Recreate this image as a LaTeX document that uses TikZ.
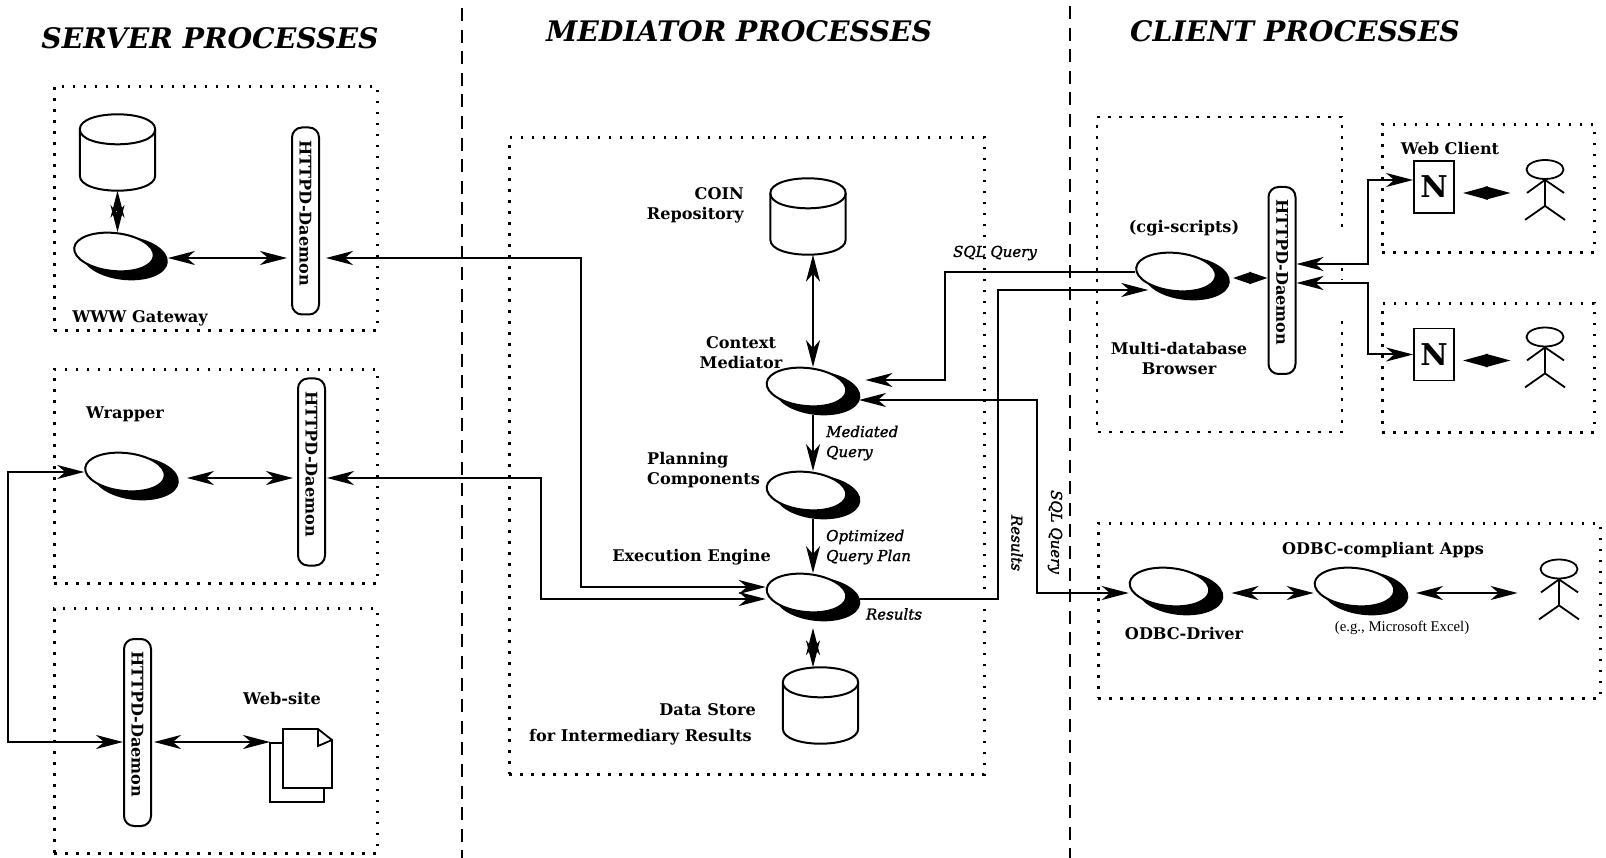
\documentclass[tikz,border=0pt]{standalone}
\usepackage{fontspec}
\usepackage{graphicx}
\setmainfont{DejaVu Serif}
\newfontfamily\smallserif{Liberation Serif}
\newfontfamily\semital{DejaVu Serif}[ItalicFeatures={FakeBold=1.4}]
\usetikzlibrary{arrows.meta,shapes.geometric,calc}
\tikzset{
  x=1pt,y=-1pt,
  wire/.style={line width=2pt,line join=miter},
  arr/.style={wire,-{Stealth[length=27pt,width=14pt,inset=8pt]}},
  bi/.style={wire,{Stealth[length=27pt,width=14pt,inset=8pt]}-{Stealth[length=27pt,width=14pt,inset=8pt]}},
  bim/.style={wire,{Stealth[length=25pt,width=13pt,inset=0pt]}-{Stealth[length=25pt,width=13pt,inset=0pt]}},
  bis/.style={wire,{Stealth[length=18pt,width=12pt,inset=1pt]}-{Stealth[length=18pt,width=12pt,inset=1pt]}},
  sep/.style={line width=2.2pt,dash pattern=on 13pt off 8.6pt},
  dotbox/.style={draw,line width=2.8pt,dash pattern=on 2.8pt off 8.2pt,inner sep=0pt,anchor=north west},
  dotline/.style={line width=2.8pt,dash pattern=on 2.8pt off 8.2pt},
  procw/.style={ellipse,draw,line width=2pt,fill=white,inner sep=0pt,minimum width=80pt,minimum height=38pt,rotate=-6},
  procs/.style={ellipse,fill=black,inner sep=0pt,minimum width=86pt,minimum height=44pt,rotate=-6},
  cylbox/.style={inner sep=0pt,minimum width=75pt,minimum height=76pt},
  cylline/.style={line width=2pt,fill=white},
  httpd/.style={draw,line width=2pt,rounded corners=10pt,fill=white,inner sep=0pt,minimum width=27pt,minimum height=187pt,font=\fontsize{16.1}{18}\selectfont\bfseries},
  lab/.style={inner sep=0pt,font=\fontsize{16.1}{20}\selectfont\bfseries},
  ital/.style={inner sep=0pt,font=\fontsize{15}{20}\selectfont\semital\itshape},
  head/.style={inner sep=0pt,font=\fontsize{28.3}{32}\selectfont\bfseries\itshape},
  nbox/.style={draw,line width=1.8pt,fill=white,inner sep=0pt,minimum width=40pt,minimum height=52pt,font=\fontsize{30}{32}\selectfont\bfseries},
  headn/.style={ellipse,draw,line width=1.8pt,inner sep=0pt,minimum width=37pt,minimum height=19pt},
  stick/.style={line width=1.8pt},
  page/.style={draw,line width=1.8pt,fill=white,inner sep=0pt,anchor=north west}
}
\newcommand{\procnode}[3]{%
  \node[procs] (#1s) at (#2+11,#3+6) {};
  \node[procw] (#1) at (#2,#3) {};}
\newcommand{\personnode}[3]{%
  \node[headn] (#1) at (#2,#3) {};
  \draw[stick] (#1.south) -- ++(0,26) -- ++(-20,14) ++(20,-14) -- ++(20,14);
  \draw[stick] (#1.south) -- ++(-18,13);
  \draw[stick] (#1.south) -- ++(19,13);}
\newcommand{\cylnode}[3]{%
  \node[cylbox] (#1) at (#2,#3) {};
  \draw[cylline] ($(#1.north west)+(0,15)$) -- ($(#1.south west)+(0,-15)$)
    .. controls +(0,20) and +(-0,20) .. ($(#1.south east)+(0,-15)$)
    -- ($(#1.north east)+(0,15)$)
    .. controls +(0,-20) and +(0,-20) .. ($(#1.north west)+(0,15)$) -- cycle;
  \draw[line width=2pt] ($(#1.north west)+(0,15)$)
    .. controls +(0,20) and +(0,20) .. ($(#1.north east)+(0,15)$);}
\newcommand{\daemon}{\vbox{\hbox{\rotatebox{-90}{HTTPD-Daemon}}\kern16pt}}
\begin{document}
\begin{tikzpicture}
\useasboundingbox (0,0) rectangle (1606,858);
% separators
\coordinate (sa1) at (462,8); \coordinate (sa2) at (462,858);
\coordinate (sb1) at (1070,6); \coordinate (sb2) at (1070,858);
\draw[sep] (sa1) -- (sa2);
\draw[sep] (sb1) -- (sb2);
% titles
\node[head] (tserver) at (210,38) {SERVER PROCESSES};
\node[head] (tmed) at (739,31) {MEDIATOR PROCESSES};
\node[head] (tclient) at (1295,31) {CLIENT PROCESSES};
% dotted boxes
\node[dotbox,minimum width=323pt,minimum height=244pt] (bs1) at (53,85) {};
\node[dotbox,minimum width=323pt,minimum height=214pt] (bs2) at (53,368) {};
\node[dotbox,minimum width=323pt,minimum height=245pt] (bs3) at (53,607) {};
\node[dotbox,minimum width=475pt,minimum height=637pt] (bm) at (508,136) {};
\node[dotbox,minimum width=212pt,minimum height=128pt] (bw1) at (1381,123) {};
\node[dotbox,minimum width=212pt,minimum height=129pt] (bw2) at (1381,302) {};
\node[dotbox,minimum width=502pt,minimum height=175pt] (bo) at (1097,522) {};
\coordinate (bb1) at (1342,227); \coordinate (bb2) at (1342,117); \coordinate (bb3) at (1097,117);
\coordinate (bb4) at (1097,432); \coordinate (bb5) at (1342,432); \coordinate (bb6) at (1342,318);
\coordinate (bb7) at (1342,268); \coordinate (bb8) at (1342,280);
\draw[dotline] (bb1) -- (bb2) -- (bb3) -- (bb4) -- (bb5) -- (bb6);
\draw[dotline] (bb7) -- (bb8);
% bend points
\coordinate (w1) at (581,587);
\coordinate (w2) at (541,599);
\coordinate (w3) at (997.5,290);
\coordinate (w4) at (945,380);
\coordinate (w5) at (1037,400);
\coordinate (w6) at (7.5,472);
\coordinate (w7) at (1368,264);
\coordinate (w8) at (1368,283);
\coordinate (mx) at (813,0);
% server side
\cylnode{c1}{117.5}{152.5}
\procnode{p1}{114}{252}
\node[httpd] (h1) at (305.5,221) {\daemon};
\node[lab] (lwww) at (140,318) {WWW Gateway};
\procnode{p2}{125}{472}
\node[httpd] (h2) at (311.5,472) {\daemon};
\node[lab] (lwrap) at (125,414) {Wrapper};
\node[httpd] (h3) at (137.5,732.5) {\daemon};
\node[lab] (lweb) at (282,698) {Web-site};
\node[page,minimum width=54pt,minimum height=59pt] (docb) at (269,742) {};
\node[inner sep=0pt,anchor=north west,minimum width=49pt,minimum height=59pt] (docf) at (283,729) {};
\draw[stick,fill=white] (docf.north west) -- ++(35,0) -- ++(14,11) -- ++(0,48) -- ++(-49,0) -- cycle;
\draw[stick] ($(docf.north west)+(35,0)$) -- ++(0,17) -- ++(14,-6);
% mediator
\cylnode{c2}{808}{216.5}
\procnode{cx}{806.5}{387}
\procnode{pl}{806.5}{491}
\procnode{ex}{806.5}{593}
\cylnode{c3}{820.5}{705.5}
\node[lab,align=right,anchor=east] (lcoin) at (744,205) {COIN\\Repository};
\node[lab,align=center] (lctx) at (741,353) {Context\\Mediator};
\node[lab,align=left,anchor=west] (lplan) at (647,470) {Planning\\Components};
\node[lab,anchor=east] (lexe) at (771,557) {Execution Engine};
\node[lab,anchor=east] (lds) at (756,710) {Data Store};
\node[lab,anchor=east] (lfor) at (752,737) {for Intermediary Results};
\node[ital,align=left,anchor=west] (lmq) at (826,443) {Mediated\\Query};
\node[ital,align=left,anchor=west] (loq) at (826,547) {Optimized\\Query Plan};
\node[ital] (lres) at (894,614) {Results};
\node[ital] (lsql) at (995,253) {SQL Query};
\node[ital,rotate=-90] (lres2) at (1017,543) {Results};
\node[ital,rotate=-90] (lsql2) at (1055,532) {SQL Query};
% client
\procnode{cg}{1176}{272}
\node[httpd] (h4) at (1282,280.5) {\daemon};
\node[lab] (lcgi) at (1184,228) {(cgi-scripts)};
\node[lab,align=center] (lmdb) at (1179,358) {Multi-database\\Browser};
\node[lab] (lwc) at (1450,149) {Web Client};
\node[nbox] (n1) at (1434,187) {N};
\node[nbox] (n2) at (1434,354.5) {N};
\personnode{pe1}{1545}{169.5}
\personnode{pe2}{1545}{337}
\procnode{od1}{1169.5}{587}
\procnode{od2}{1354.5}{587}
\personnode{pe3}{1559}{569}
\node[lab] (lodr) at (1184,633) {ODBC-Driver};
\node[lab] (lapp) at (1383,550) {ODBC-compliant Apps};
\node[inner sep=0pt,font=\fontsize{14.8}{16}\selectfont\smallserif] (lexc) at (1402,628) {(e.g., Microsoft Excel)};
% connectors: server
\draw[bi] (c1.south) -- (c1.south |- p1.north);
\draw[bi,shorten >=4pt] (p1s.east |- p1s.center) -- (h1.west |- p1s.center);
\draw[bi,shorten <=8pt,shorten >=4pt] (p2s.east |- p2s.center) -- (h2.west |- p2s.center);
\draw[bi,shorten <=2pt,shorten >=-1pt] (h3.east |- docb.north west) -- (docb.north west);
\draw[bi] (p2.west |- p2.center) -- (w6) |- (h3.west |- docb.north west);
% connectors: long wires
\draw[bi,shorten <=6pt] (h1.east |- p1s.center) -| (w1) -- (ex.west |- w1);
\draw[bi,shorten <=1pt] (h2.east |- p2s.center) -| (w2) -- (ex.west |- w2);
\draw[arr,shorten >=-13pt] (exs.east |- w2) -| (w3) -- (cg.west |- w3);
\draw[arr,shorten >=5pt] (cg.west |- cg.center) -| (w4) -- (cxs.east |- w4);
\draw[bi,shorten <=-1.5pt] (cxs.east |- w5) -- (w5) |- (od1.west |- od1s.center);
% connectors: mediator
\draw[bi] (mx |- c2.south) -- (mx |- cx.north);
\draw[arr] (mx |- cxs.south) -- (mx |- pl.north);
\draw[arr] (mx |- pls.south) -- (mx |- ex.north);
\draw[bi,shorten <=7pt] (mx |- exs.south) -- (mx |- c3.north);
% connectors: client
\draw[bis,shorten <=3pt] (cgs.east |- cgs.center) -- (h4.west |- cgs.center);
\draw[bi] (h4.east |- w7) -- (w7) |- ([yshift=7pt]n1.west);
\draw[bi] (h4.east |- w8) -- (w8) |- (n2.west);
\draw[bim,shorten <=8pt,shorten >=15pt] ([yshift=-6pt]n1.east) -- ([yshift=-6pt]n1.east -| pe1.west);
\draw[bim,shorten <=8pt,shorten >=15pt] ([yshift=-6pt]n2.east) -- ([yshift=-6pt]n2.east -| pe2.west);
\draw[bi,shorten <=8pt] (od1s.east |- od1s.center) -- (od2.west |- od1s.center);
\draw[bi,shorten <=7.5pt,shorten >=22pt] (od2s.east |- od2s.center) -- (pe3.west |- od2s.center);
\end{tikzpicture}
\end{document}
